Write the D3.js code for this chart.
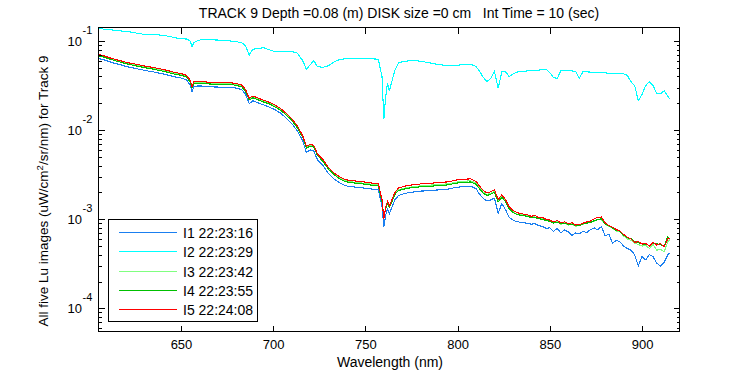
<!DOCTYPE html>
<html><head><meta charset="utf-8">
<script src="https://cdn.jsdelivr.net/npm/d3@7"></script>
<style>
body{margin:0;background:#fff}
text{font-family:"Liberation Sans",Arial,Helvetica,sans-serif;fill:#000}
</style>
</head><body>
<svg id="chart" width="750" height="375"></svg>
<script>
// ---------------- data ----------------
const wavelengths = [
 605,608,611,614,617,620,623,626,629,632,635,638,641,644,647,650,653,
 655,656,657,659,662,665,668,671,674,677,680,
 683,685,687,689,692,695,698,701,704,707,710,713,716,718,
 720,722,724,727,730,733,736,739,742,745,748,751,754,757,
 759,760,761,762,763,764,766,768,771,774,777,780,783,786,
 789,792,795,798,801,804,807,810,812,814,816,818,820,822,
 824,826,828,830,832,834,836,838,840,842,844,846,848,850,852,854,
 856,858,860,862,864,866,868,870,872,874,876,878,880,882,884,886,
 888,890,892,894,896,898,900,902,904,906,908,910,912,914,915
];
const seriesNames = ["I1 22:23:16","I2 22:23:29","I3 22:23:42","I4 22:23:55","I5 22:24:08"];
const seriesColors = ["#1a7ff0","#00ffff","#80ff80","#00c000","#ff0000"];

const I1 = [
 0.0640,0.0616,0.0588,0.0562,0.0543,0.0520,0.0503,0.0489,0.0474,0.0461,0.0450,0.0437,0.0424,0.0409,0.0394,0.0385,0.0367,
 0.0320,0.0268,0.0306,0.0313,0.0312,0.0307,0.0305,0.0304,0.0303,0.0302,0.0296,
 0.0284,0.0252,0.0198,0.0213,0.0202,0.0191,0.0181,0.0169,0.0155,0.0137,0.0119,0.00985,0.00760,0.00560,
 0.00600,0.00585,0.00465,0.00400,0.00325,0.00283,0.00256,0.00238,0.00232,0.00229,0.00225,0.00222,0.00217,0.00214,
 0.00140,0.000815,0.00112,0.00130,0.00116,0.00130,0.00165,0.00185,0.00194,0.00200,0.00203,0.00207,0.00208,0.00211,
 0.00213,0.00216,0.00218,0.00225,0.00230,0.00232,0.00235,0.00220,0.00190,0.00170,0.00160,0.00165,0.00172,0.00117,
 0.00150,0.00128,0.00105,0.000980,0.000940,0.000925,0.000910,0.000900,0.000880,0.000890,0.000850,0.000830,0.000790,0.000800,0.000730,0.000790,
 0.000700,0.000760,0.000720,0.000660,0.000700,0.000690,0.000730,0.000710,0.000760,0.000800,0.000760,0.000830,0.000650,0.000680,0.000540,0.000580,
 0.000560,0.000500,0.000470,0.000450,0.000400,0.000300,0.000380,0.000350,0.000400,0.000380,0.000320,0.000300,0.000330,0.000400,0.000420
];
const I2 = [
 0.139,0.136,0.134,0.132,0.130,0.128,0.1259,0.1225,0.1197,0.1183,0.1175,0.1169,0.1153,0.1122,0.1084,0.1064,0.1052,
 0.100,0.0863,0.0955,0.1012,0.1042,0.1035,0.1028,0.1023,0.1012,0.1000,0.0982,
 0.0955,0.0881,0.0697,0.0807,0.0828,0.0841,0.0794,0.0762,0.0759,0.0767,0.0762,0.0733,0.0603,0.0482,
 0.0538,0.0603,0.0515,0.0507,0.0527,0.0582,0.0619,0.0631,0.0637,0.0638,0.0640,0.0634,0.0631,0.0624,
 0.0398,0.0132,0.0238,0.0336,0.0277,0.0331,0.0468,0.0571,0.0592,0.0600,0.0601,0.0592,0.0578,0.0562,
 0.0547,0.0537,0.0530,0.0531,0.0538,0.0543,0.0548,0.0519,0.0453,0.0389,0.0350,0.0382,0.0453,0.0295,
 0.0453,0.0453,0.0398,0.0427,0.0447,0.0453,0.0457,0.0462,0.0466,0.0468,0.0472,0.0476,0.0482,0.0442,0.0389,0.0380,
 0.0463,0.0464,0.0464,0.0461,0.0457,0.0382,0.0453,0.0450,0.0448,0.0447,0.0445,0.0442,0.0439,0.0435,0.0434,0.0432,
 0.0430,0.0427,0.0412,0.0350,0.0316,0.0214,0.0251,0.0316,0.0350,0.0316,0.0255,0.0255,0.0277,0.0240,0.0222
];
const I3 = [
 0.0695,0.0670,0.0640,0.0612,0.0590,0.0566,0.0549,0.0534,0.0518,0.0503,0.0492,0.0477,0.0464,0.0447,0.0430,0.0421,0.0402,
 0.0354,0.0302,0.0338,0.0342,0.0341,0.0336,0.0333,0.0333,0.0332,0.0331,0.0324,
 0.0312,0.0278,0.0222,0.0235,0.0222,0.0210,0.0200,0.0186,0.0170,0.0151,0.0131,0.0109,0.00850,0.00640,
 0.00672,0.00658,0.00528,0.00456,0.00370,0.00322,0.00290,0.00270,0.00263,0.00259,0.00255,0.00251,0.00245,0.00242,
 0.00160,0.00104,0.00134,0.00154,0.00138,0.00153,0.00193,0.00214,0.00223,0.00229,0.00233,0.00237,0.00239,0.00242,
 0.00245,0.00247,0.00250,0.00258,0.00265,0.00267,0.00270,0.00254,0.00224,0.00200,0.00189,0.00196,0.00205,0.00159,
 0.00180,0.00160,0.00134,0.00122,0.00115,0.00112,0.00111,0.00109,0.00106,0.00106,0.00102,0.00101,0.000975,0.000955,0.000915,0.000940,
 0.000880,0.000915,0.000860,0.000890,0.000830,0.000860,0.000870,0.000915,0.000930,0.000950,0.00100,0.000980,0.000880,0.000830,0.000790,0.000740,
 0.000720,0.000650,0.000600,0.000580,0.000540,0.000520,0.000500,0.000510,0.000470,0.000520,0.000450,0.000460,0.000430,0.000560,0.000590
];
const I4 = [
 0.0686,0.0661,0.0631,0.0603,0.0580,0.0557,0.0540,0.0524,0.0508,0.0494,0.0483,0.0468,0.0455,0.0438,0.0422,0.0413,0.0394,
 0.0348,0.0298,0.0332,0.0335,0.0334,0.0330,0.0327,0.0327,0.0326,0.0325,0.0318,
 0.0306,0.0273,0.0218,0.0231,0.0218,0.0206,0.0196,0.0182,0.0167,0.0148,0.0129,0.0107,0.00832,0.00625,
 0.00660,0.00645,0.00518,0.00447,0.00363,0.00316,0.00285,0.00265,0.00258,0.00254,0.00250,0.00246,0.00240,0.00237,
 0.00158,0.00108,0.00132,0.00152,0.00136,0.00150,0.00190,0.00210,0.00218,0.00224,0.00228,0.00231,0.00233,0.00235,
 0.00238,0.00240,0.00243,0.00251,0.00257,0.00259,0.00262,0.00247,0.00218,0.00195,0.00185,0.00191,0.00200,0.00156,
 0.00176,0.00157,0.00131,0.00120,0.00113,0.00111,0.00109,0.00108,0.00104,0.00105,0.00101,0.00100,0.000965,0.000950,0.000905,0.000930,
 0.000890,0.000905,0.000870,0.000880,0.000845,0.000850,0.000885,0.000905,0.000920,0.000960,0.000990,0.00101,0.000890,0.000840,0.000800,0.000750,
 0.000735,0.000665,0.000620,0.000610,0.000560,0.000545,0.000530,0.000520,0.000510,0.000540,0.000530,0.000520,0.000500,0.000640,0.000600
];
const I5 = [
 0.0710,0.0684,0.0653,0.0624,0.0603,0.0579,0.0562,0.0547,0.0531,0.0516,0.0505,0.0490,0.0476,0.0459,0.0442,0.0432,0.0412,
 0.0363,0.0309,0.0347,0.0351,0.0350,0.0345,0.0342,0.0342,0.0341,0.0340,0.0333,
 0.0320,0.0285,0.0229,0.0242,0.0228,0.0216,0.0205,0.0191,0.0175,0.0155,0.0135,0.0112,0.00871,0.00661,
 0.00692,0.00676,0.00543,0.00468,0.00380,0.00331,0.00299,0.00279,0.00272,0.00268,0.00264,0.00260,0.00254,0.00251,
 0.00166,0.00100,0.00138,0.00158,0.00141,0.00158,0.00200,0.00224,0.00234,0.00241,0.00245,0.00249,0.00251,0.00254,
 0.00257,0.00260,0.00263,0.00272,0.00279,0.00281,0.00284,0.00266,0.00234,0.00209,0.00197,0.00204,0.00214,0.00166,
 0.00188,0.00166,0.00138,0.00126,0.00119,0.00116,0.00114,0.00112,0.00108,0.00110,0.00104,0.00105,0.00100,0.000977,0.000933,0.000966,
 0.000912,0.000933,0.000891,0.000912,0.000861,0.000871,0.000902,0.000933,0.000955,0.00101,0.00105,0.00106,0.000912,0.000851,0.000813,0.000767,
 0.000741,0.000676,0.000631,0.000603,0.000550,0.000562,0.000525,0.000537,0.000501,0.000550,0.000513,0.000537,0.000490,0.000603,0.000617
];
const xLimits = [605, 920.6];
const yLimits = [5.57e-5, 0.1436];
const xTicks = [650, 700, 750, 800, 850, 900];
const yTickExponents = [-4, -3, -2, -1];
const titleText = "TRACK 9 Depth =0.08 (m) DISK size =0 cm   Int Time = 10 (sec)";

// ---------------- chart ----------------
const svg = d3.select("#chart");
const L = 98, R = 680, T = 27, B = 331;
const x = d3.scaleLinear().domain(xLimits).range([L, R]);
const y = d3.scaleLog().domain(yLimits).range([B, T]);

const allSeries = [I1, I2, I3, I4, I5];

svg.append("clipPath").attr("id","clip").append("rect")
  .attr("x", L).attr("y", T).attr("width", R - L).attr("height", B - T);

const line = d3.line().x(d => x(d[0])).y(d => y(d[1]));
const plot = svg.append("g").attr("clip-path","url(#clip)");
allSeries.forEach((s, i) => {
  plot.append("path")
    .datum(wavelengths.map((w, k) => [w, s[k]]))
    .attr("d", line)
    .attr("fill","none")
    .attr("stroke", seriesColors[i])
    .attr("stroke-width", 1.1)
    .attr("shape-rendering","crispEdges");
});

// axes (ticks inward)
const majorY = yTickExponents.map(e => Math.pow(10, e));
const minorY = [];
for (let e = -5; e <= -1; e++) for (let m = 2; m <= 9; m++) {
  const v = m * Math.pow(10, e);
  if (v >= yLimits[0] && v <= yLimits[1]) minorY.push(v);
}
const axStyle = g => { g.select(".domain").remove(); g.selectAll("line").attr("stroke","#000").attr("shape-rendering","crispEdges"); };

svg.append("g").attr("transform",`translate(0,${B + 0.5})`)
  .call(d3.axisBottom(x).tickValues(xTicks).tickSizeInner(-6).tickSizeOuter(0).tickPadding(8.5).tickFormat(d3.format("d")))
  .call(axStyle)
  .call(g => g.selectAll("text").attr("font-size", 13).attr("font-family", '"Liberation Sans",Arial,sans-serif').attr("fill","#000"));
svg.append("g").attr("transform",`translate(0,${T + 0.5})`)
  .call(d3.axisTop(x).tickValues(xTicks).tickSizeInner(-6).tickSizeOuter(0).tickFormat(""))
  .call(axStyle);
svg.append("g").attr("transform",`translate(${L + 0.5},0)`)
  .call(d3.axisLeft(y).tickValues(majorY).tickSizeInner(-6).tickSizeOuter(0).tickFormat(""))
  .call(axStyle);
svg.append("g").attr("transform",`translate(${L + 0.5},0)`)
  .call(d3.axisLeft(y).tickValues(minorY).tickSizeInner(-3).tickSizeOuter(0).tickFormat(""))
  .call(axStyle);
svg.append("g").attr("transform",`translate(${R - 0.5},0)`)
  .call(d3.axisRight(y).tickValues(majorY).tickSizeInner(-6).tickSizeOuter(0).tickFormat(""))
  .call(axStyle);
svg.append("g").attr("transform",`translate(${R - 0.5},0)`)
  .call(d3.axisRight(y).tickValues(minorY).tickSizeInner(-3).tickSizeOuter(0).tickFormat(""))
  .call(axStyle);

// y tick labels 10^e
const ylab = svg.append("g");
yTickExponents.forEach(e => {
  const yy = y(Math.pow(10, e));
  ylab.append("text").attr("x", 82).attr("y", yy + 5).attr("text-anchor","end")
    .attr("font-size", 13).text("10");
  ylab.append("text").attr("x", 82.5).attr("y", yy - 7.5).attr("text-anchor","start")
    .attr("font-size", 11).text(String(e));
});

// box
svg.append("rect").attr("x", L + 0.5).attr("y", T + 0.5).attr("width", R - L - 1).attr("height", B - T)
  .attr("fill","none").attr("stroke","#000").attr("stroke-width",1).attr("shape-rendering","crispEdges");

// title and labels
svg.append("text").attr("x", 399).attr("y", 18).attr("text-anchor","middle")
  .attr("font-size", 14).style("white-space","pre").text(titleText);
svg.append("text").attr("x", 390).attr("y", 367).attr("text-anchor","middle")
  .attr("font-size", 14).text("Wavelength (nm)");
const yl = svg.append("text").attr("transform","translate(48,191) rotate(-90)")
  .attr("text-anchor","middle").attr("font-size", 13.5);
yl.append("tspan").text("All five Lu images (uW/cm");
yl.append("tspan").attr("dy", -5).attr("font-size", 9.5).text("2");
yl.append("tspan").attr("dy", 5).text("/sr/nm) for Track 9");

// legend
const lg = svg.append("g");
lg.append("rect").attr("x", 108.5).attr("y", 219.5).attr("width", 149).attr("height", 102)
  .attr("fill","#fff").attr("stroke","#000").attr("shape-rendering","crispEdges");
seriesNames.forEach((n, i) => {
  const yy = Math.round(231.7 + i * 19.4);
  lg.append("rect").attr("x", 119).attr("y", yy).attr("width", 58).attr("height", 1)
    .attr("fill", seriesColors[i]).attr("shape-rendering","crispEdges");
  lg.append("text").attr("x", 183).attr("y", yy + 5.5).attr("font-size", 14).text(n);
});
</script>
</body></html>
